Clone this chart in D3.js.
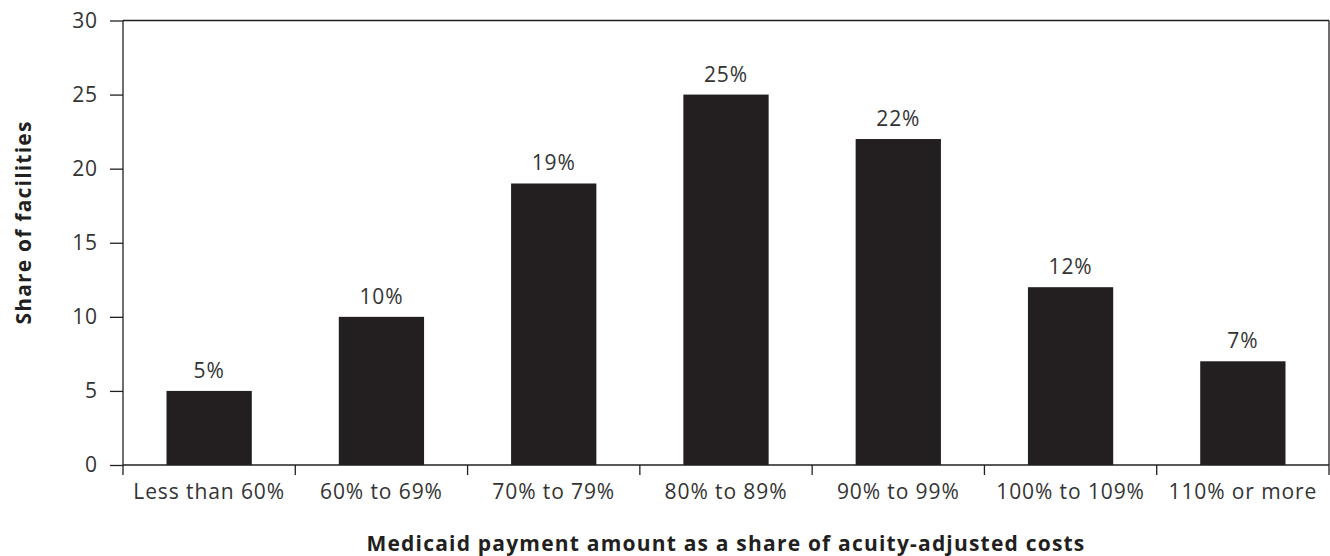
<!DOCTYPE html>
<html><head><meta charset="utf-8">
<script src="https://cdn.jsdelivr.net/npm/d3@7"></script>
<style>
body{margin:0;background:#fff;}
text{font-family:"Open Sans",sans-serif;}
</style></head>
<body><svg id="c" width="1330" height="556"></svg>
<script>
const categories = ["Less than 60%","60% to 69%","70% to 79%","80% to 89%","90% to 99%","100% to 109%","110% or more"];
const values = [5,10,19,25,22,12,7];
const yTicks = [0,5,10,15,20,25,30];

const svg = d3.select("#c");
const m = {left:123, right:1329, top:20.5, bottom:465};
const ink = "#231f20", txt = "#333333";
const FS = 21, LS = "0.9px", LSB = "1.2px";

const x = d3.scaleBand().domain(categories).range([m.left, m.right]).padding(0);
const y = d3.scaleLinear().domain([0,30]).range([m.bottom, m.top]);

// bars
const bw = x.bandwidth()*0.495;
svg.selectAll("rect.bar").data(values).join("rect")
  .attr("x",(d,i)=>x(categories[i])+x.bandwidth()/2-bw/2)
  .attr("y",d=>y(d)).attr("width",bw).attr("height",d=>y(0)-y(d))
  .attr("fill",ink);

// value labels
svg.selectAll("text.val").data(values).join("text")
  .attr("x",(d,i)=>x(categories[i])+x.bandwidth()/2)
  .attr("y",d=>y(d)-13).attr("text-anchor","middle")
  .attr("font-size",FS).attr("letter-spacing",LS).attr("fill",txt).text(d=>d+"%");

// box top & right
svg.append("line").attr("x1",m.left).attr("x2",m.right).attr("y1",m.top).attr("y2",m.top).attr("stroke",ink).attr("stroke-width",1.3);
svg.append("line").attr("x1",m.right).attr("x2",m.right).attr("y1",m.top).attr("y2",m.bottom+10).attr("stroke",ink).attr("stroke-width",1.3);

// y axis
const ya = svg.append("g").attr("transform",`translate(${m.left},0)`)
  .call(d3.axisLeft(y).tickValues(yTicks).tickSize(13).tickPadding(12));
ya.select(".domain").attr("stroke",ink).attr("stroke-width",1.3).attr("d",`M0,${m.top}V${m.bottom+10}`);
ya.selectAll(".tick line").attr("stroke",ink).attr("stroke-width",1.3);
ya.selectAll(".tick text").attr("font-size",FS).attr("letter-spacing",LS).attr("fill",txt).attr("font-family","Open Sans");

// x axis
const xa = svg.append("g").attr("transform",`translate(0,${m.bottom})`)
  .call(d3.axisBottom(x).tickSize(0).tickPadding(19));
xa.select(".domain").attr("stroke",ink).attr("stroke-width",1.3).attr("d",`M${m.left},0H${m.right}`);
xa.selectAll(".tick text").attr("font-size",FS).attr("letter-spacing",LS).attr("fill",txt).attr("font-family","Open Sans");
// boundary ticks
const bounds = categories.slice(1).map(c=>x(c));
svg.selectAll("line.bt").data(bounds).join("line")
  .attr("x1",d=>d).attr("x2",d=>d).attr("y1",m.bottom).attr("y2",m.bottom+10)
  .attr("stroke",ink).attr("stroke-width",1.3);

// titles
svg.append("text").attr("x",(m.left+m.right)/2).attr("y",551).attr("text-anchor","middle")
  .attr("font-size",FS).attr("font-weight","bold").attr("letter-spacing",LSB).attr("fill",ink)
  .text("Medicaid payment amount as a share of acuity-adjusted costs");
svg.append("text").attr("transform",`translate(31,222.5) rotate(-90)`)
  .attr("text-anchor","middle").attr("font-size",FS).attr("font-weight","bold").attr("letter-spacing",LSB).attr("fill",ink)
  .text("Share of facilities");
</script></body></html>
